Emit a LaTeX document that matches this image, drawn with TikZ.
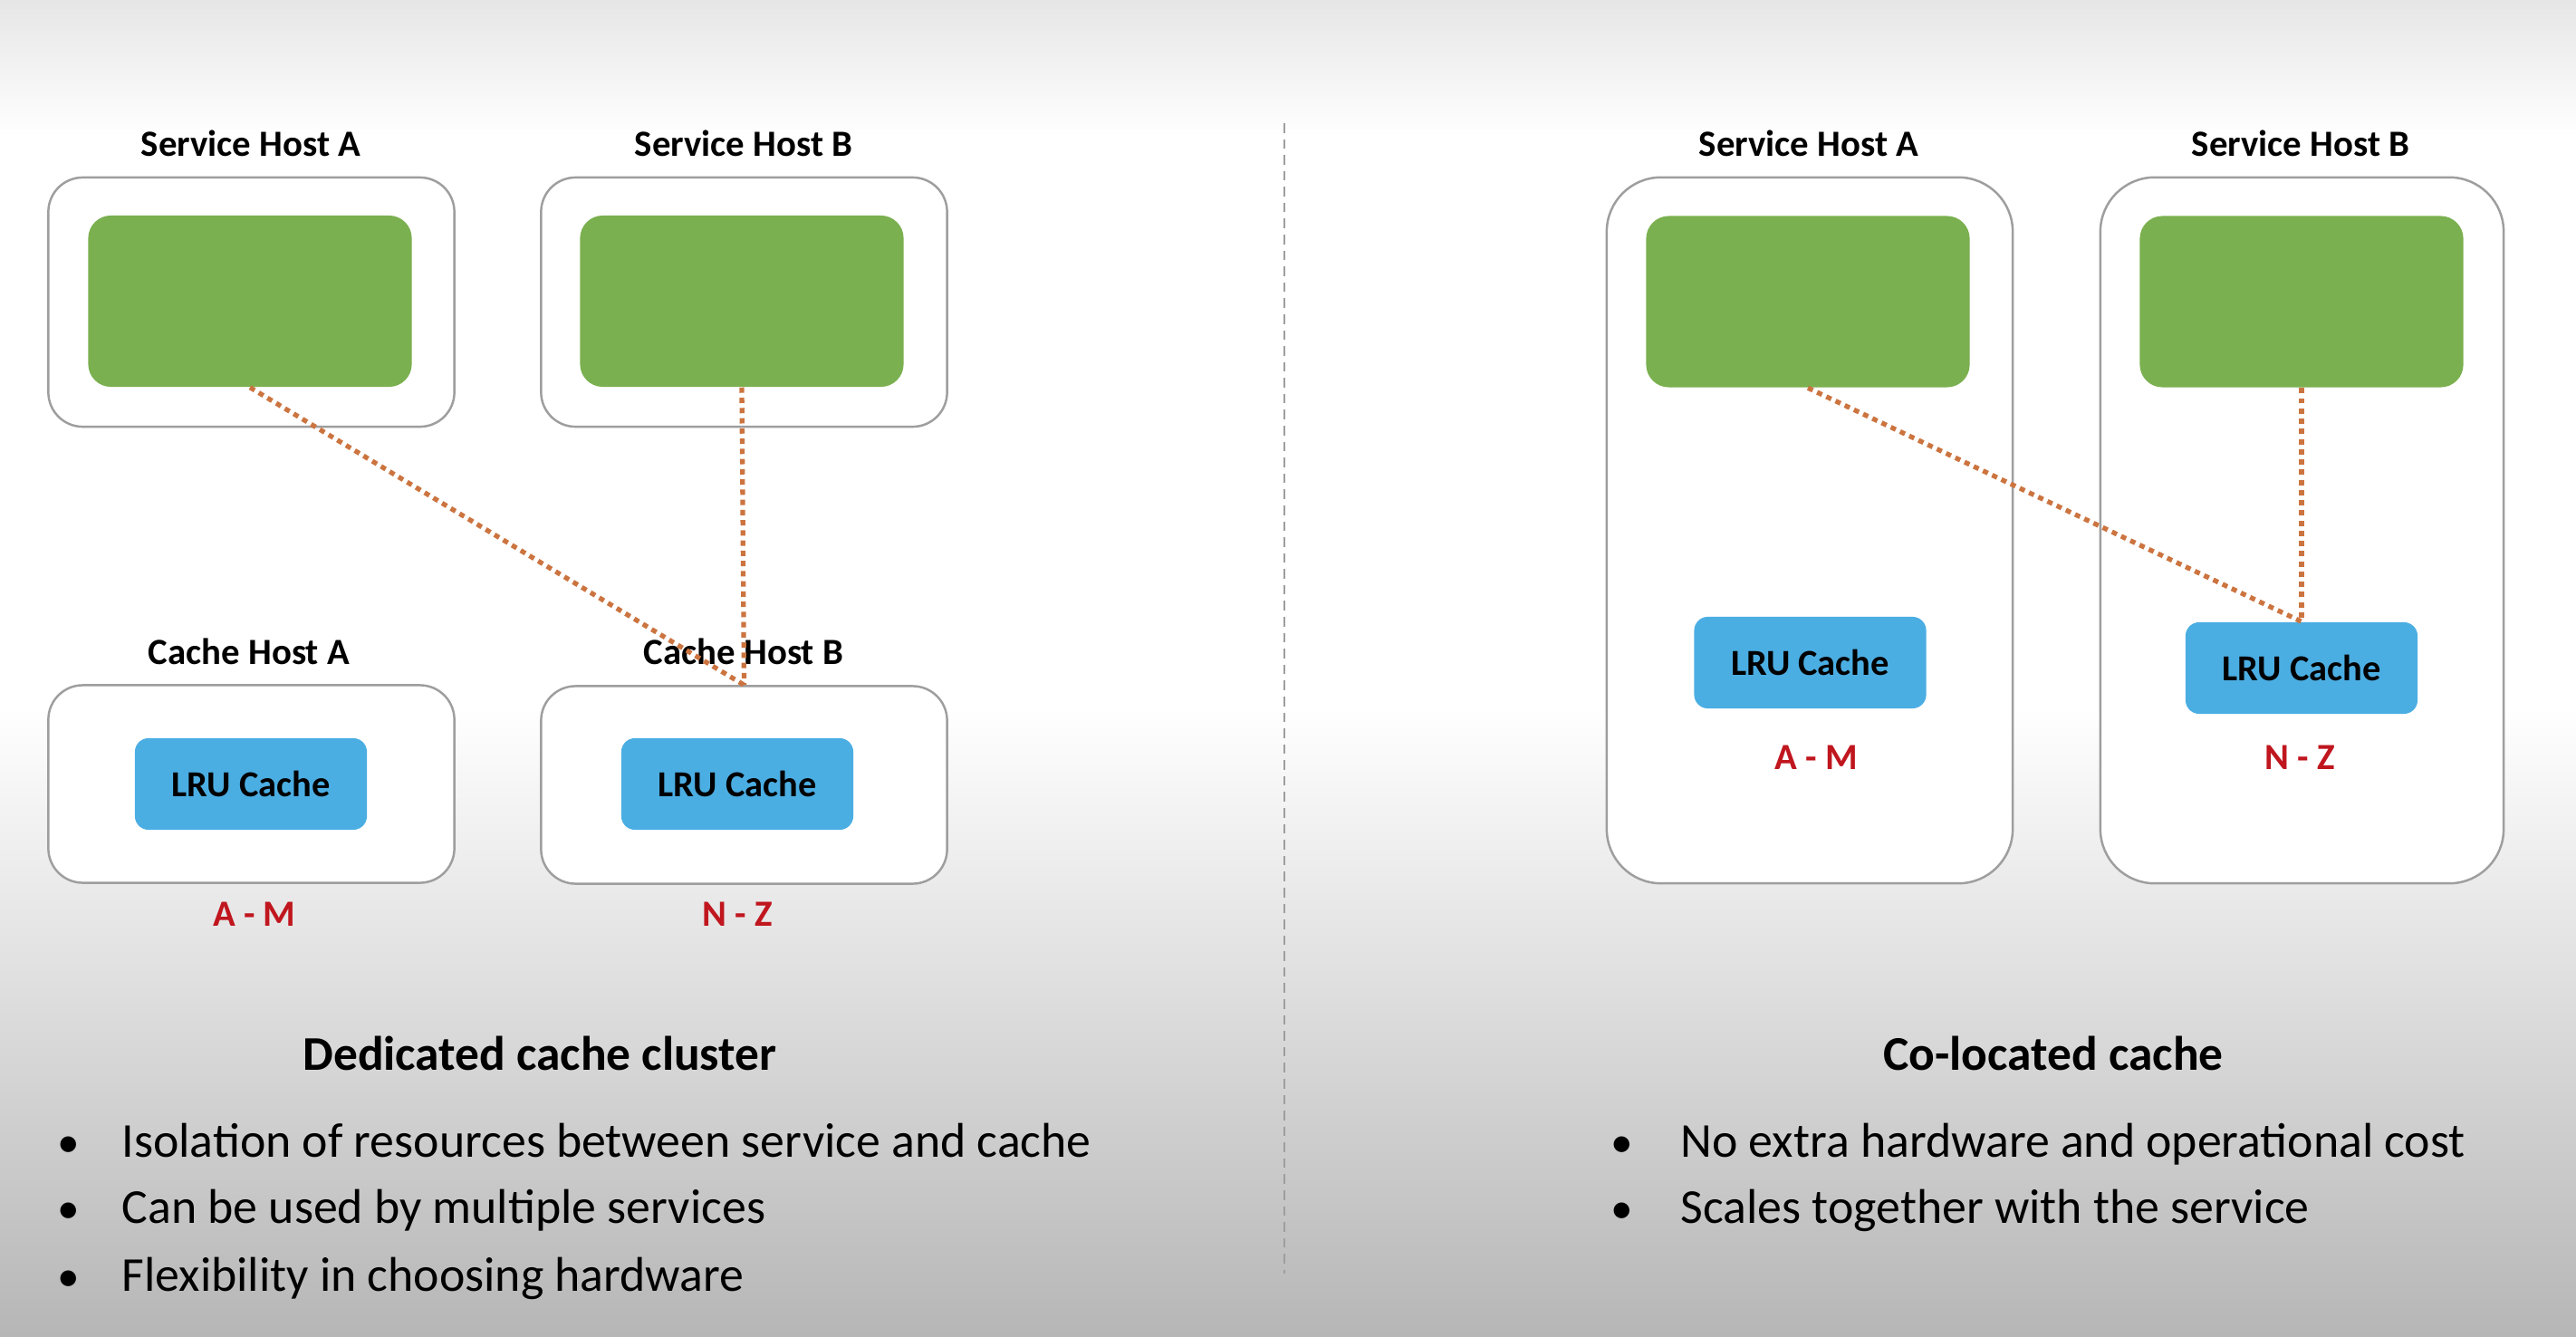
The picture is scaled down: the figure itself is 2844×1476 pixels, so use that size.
\documentclass[tikz,border=0pt]{standalone}
\usepackage{fontspec}
\setmainfont{Carlito}
\usetikzlibrary{positioning,calc}
\definecolor{svcgreen}{HTML}{7AB04F}
\definecolor{lrublue}{HTML}{4BAEE3}
\definecolor{linkorange}{HTML}{CC7440}
\definecolor{rangered}{HTML}{C0161E}
\definecolor{hostgray}{HTML}{9E9E9E}
\definecolor{bgtop}{HTML}{E6E6E6}
\definecolor{bgbottom}{HTML}{B6B6B6}

\begin{document}
\begin{tikzpicture}[x=0.01cm,y=-0.01cm,
  hostbox/.style={draw=hostgray,line width=0.7pt,fill=white,rounded corners=0.38cm,inner sep=0pt,minimum width=4.48cm},
  svcbox/.style={fill=svcgreen,rounded corners=0.25cm,minimum width=3.57cm,minimum height=1.89cm,inner sep=0pt},
  lrubox/.style={fill=lrublue,rounded corners=0.15cm,minimum width=2.56cm,minimum height=1.01cm,inner sep=0pt,font=\fontsize{11.5}{13}\selectfont\bfseries},
  hostlabel/.style={anchor=base,font=\fontsize{11.6}{13}\selectfont\bfseries},
  keyrange/.style={anchor=base,text=rangered,font=\fontsize{11.6}{13}\selectfont\bfseries},
  dotlink/.style={linkorange,line width=1.5pt,dash pattern=on 1.7pt off 1.5pt},
  heading/.style={anchor=base,font=\fontsize{15.2}{18}\selectfont\bfseries},
  bullettext/.style={anchor=base west,inner sep=0pt,font=\fontsize{15.3}{18}\selectfont}]
% Background
\useasboundingbox (0,0) rectangle (2844,1476);
\fill[white] (0,0) rectangle (2844,1476);
\shade[top color=bgtop,bottom color=white] (0,0) rectangle (2844,150);
\shade[top color=white,bottom color=bgbottom] (0,780) rectangle (2844,1476);
% Divider
\draw[hostgray,line width=0.5pt,dash pattern=on 3pt off 2pt] (1418,136) -- (1418,1406);

% Dedicated cache cluster
\node[hostbox,minimum height=2.75cm] (dsha) at (277.5,333.5) {};
\node[hostbox,minimum height=2.75cm] (dshb) at (821.5,333.5) {};
\node[svcbox] (dsva) at (276,332.5) {};
\node[svcbox] (dsvb) at (819,332.5) {};
\node[hostlabel] (dsla) at (277,173) {Service Host A};
\node[hostlabel] (dslb) at (821,173) {Service Host B};
\node[hostbox,minimum height=2.18cm] (dcha) at (277.5,865.5) {};
\node[hostbox,minimum height=2.18cm] (dchb) at (821.5,866.5) {};
\node[lrubox] (dlra) at (277,865.5) {LRU Cache};
\node[lrubox] (dlrb) at (814,865.5) {LRU Cache};
\node[hostlabel] (dcla) at (275,733) {Cache Host A};
\node[hostlabel] (dclb) at (821,733) {Cache Host B};
\node[keyrange] (drga) at (281,1022) {A - M};
\node[keyrange] (drgb) at (814,1022) {N - Z};
% links to the cache host
\draw[dotlink] (dsva.south) -- (dchb.north);
\draw[dotlink] (dsvb.south) -- (dchb.north);

% Co-located cache
\node[hostbox,rounded corners=0.6cm,minimum height=7.79cm] (csha) at (1998,585.5) {};
\node[hostbox,rounded corners=0.6cm,minimum height=7.79cm,minimum width=4.45cm] (cshb) at (2541.5,585.5) {};
\node[svcbox] (csva) at (1996,333) {};
\node[svcbox] (csvb) at (2541,333) {};
\node[hostlabel] (csla) at (1997,173) {Service Host A};
\node[hostlabel] (cslb) at (2540,173) {Service Host B};
\node[lrubox] (clra) at (1998.5,731.5) {LRU Cache};
\node[lrubox] (clrb) at (2541,737.5) {LRU Cache};
\node[keyrange] (crga) at (2005,849) {A - M};
\node[keyrange] (crgb) at (2539,849) {N - Z};
% links to the local cache of host B
\draw[dotlink] (csva.south) -- (clrb.north);
\draw[dotlink] (csvb.south) -- (clrb.north);

% Headings and bullet lists
\node[heading] (dhead) at (596,1181) {Dedicated cache cluster};
\node[heading] (chead) at (2267,1181) {Co-located cache};
\foreach \y/\t in {1277/Isolation of resources between service and cache,
                   1350/Can be used by multiple services,
                   1425/Flexibility in choosing hardware} {
  \node[anchor=base,font=\fontsize{14}{18}\selectfont] at (76,\y) {\textbullet};
  \node[bullettext] at (134,\y) {\t};
}
\foreach \y/\t in {1277/No extra hardware and operational cost,
                   1350/Scales together with the service} {
  \node[anchor=base,font=\fontsize{14}{18}\selectfont] at (1791,\y) {\textbullet};
  \node[bullettext] at (1855,\y) {\t};
}
\end{tikzpicture}
\end{document}
